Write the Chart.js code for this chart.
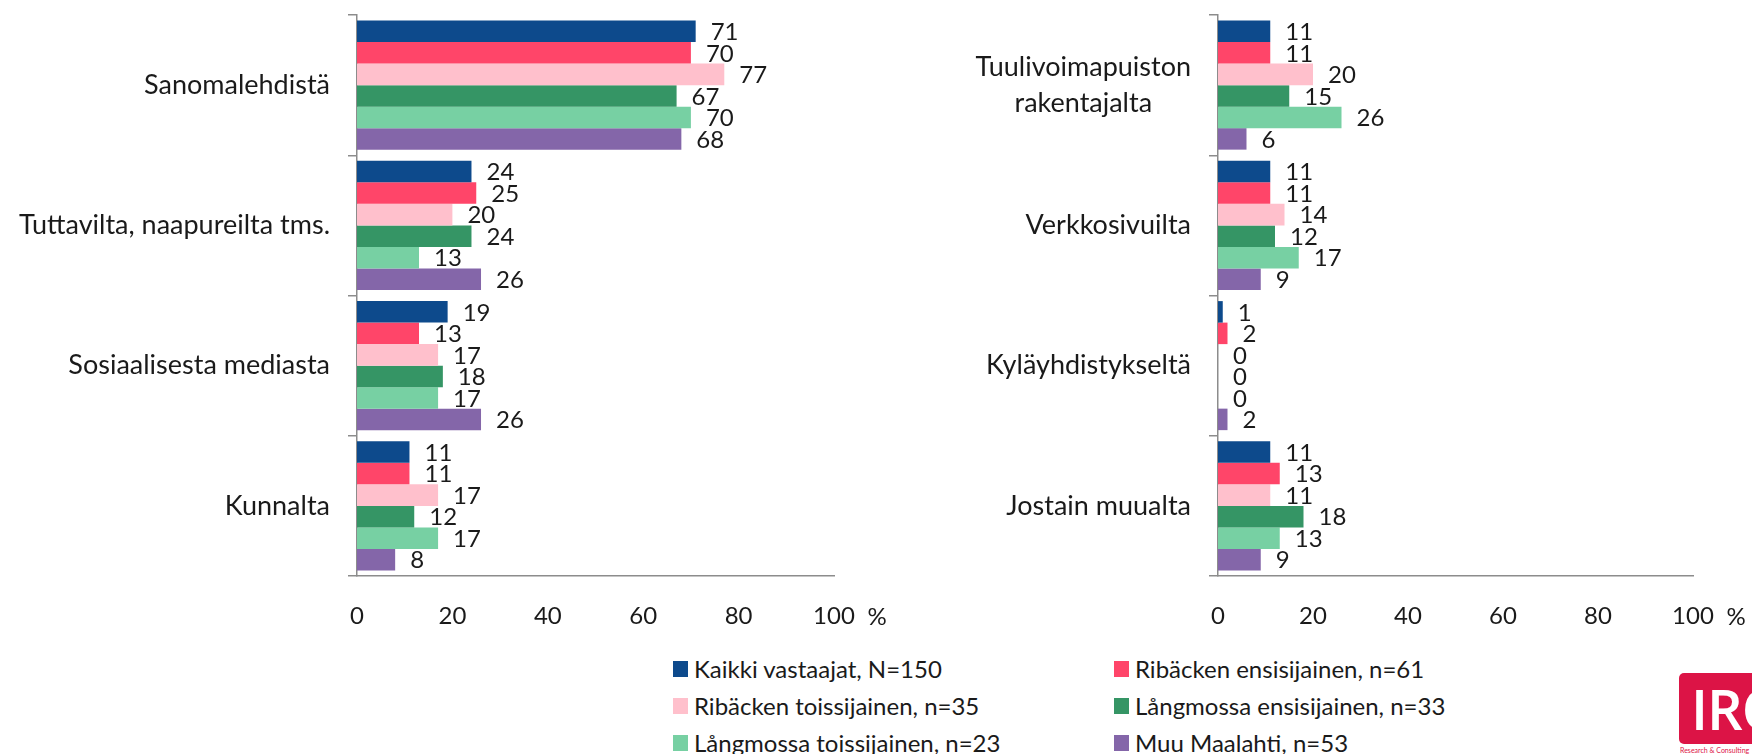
<!DOCTYPE html>
<html>
<head>
<meta charset="utf-8">
<script src="https://cdn.jsdelivr.net/npm/chart.js@4.4.1/dist/chart.umd.min.js"></script>
<style>
  html, body { margin: 0; padding: 0; background: #fff; }
  body { width: 1752px; height: 754px; position: relative; overflow: hidden; font-family: Lato, sans-serif; color: #1a1a1a; }
  .box { position: absolute; top: 0; height: 640px; }
  #leftBox { left: 0; width: 900px; }
  #rightBox { left: 900px; width: 852px; }
  #legend { position: absolute; left: 673px; top: 650px; display: grid; grid-template-columns: 441px 400px; row-gap: 0; }
  #legend .item { height: 37px; display: flex; align-items: center; font-size: 24px; white-space: nowrap; }
  #legend .sw { width: 15px; height: 16px; margin-right: 6px; }
  #logo { position: absolute; left: 1679px; top: 673px; width: 120px; height: 71px; background: #dc1446; border-radius: 5px; color: #fff; font: 600 56px "Open Sans", sans-serif; line-height: 71px; padding-left: 12px; letter-spacing: -1px; box-sizing: border-box; }
  #tag { position: absolute; left: 1680px; top: 746px; font-size: 7px; color: #dc1446; white-space: nowrap; }
</style>
</head>
<body>
<div class="box" id="leftBox"><canvas id="leftChart"></canvas></div>
<div class="box" id="rightBox"><canvas id="rightChart"></canvas></div>
<div id="legend"></div>
<div id="logo">IRO</div>
<div id="tag">Research &amp; Consulting</div>
<script>
const categoriesLeft = ["Sanomalehdistä", "Tuttavilta, naapureilta tms.", "Sosiaalisesta mediasta", "Kunnalta"];
const categoriesRight = [["Tuulivoimapuiston", "rakentajalta"], "Verkkosivuilta", "Kyläyhdistykseltä", "Jostain muualta"];

const seriesNames = [
  "Kaikki vastaajat, N=150",
  "Ribäcken ensisijainen, n=61",
  "Ribäcken toissijainen, n=35",
  "Långmossa ensisijainen, n=33",
  "Långmossa toissijainen, n=23",
  "Muu Maalahti, n=53",
];
const seriesColors = ["#0d4a8c", "#ff4569", "#ffc0cc", "#359565", "#77d0a3", "#8466a9"];

// values per series: left chart categories, right chart categories
const kaikkiLeft = [71, 24, 19, 11];
const kaikkiRight = [11, 11, 1, 11];
const ribEnsiLeft = [70, 25, 13, 11];
const ribEnsiRight = [11, 11, 2, 13];
const ribToisLeft = [77, 20, 17, 17];
const ribToisRight = [20, 14, 0, 11];
const langEnsiLeft = [67, 24, 18, 12];
const langEnsiRight = [15, 12, 0, 18];
const langToisLeft = [70, 13, 17, 17];
const langToisRight = [26, 17, 0, 13];
const muuLeft = [68, 26, 26, 8];
const muuRight = [6, 9, 2, 9];

const xTicks = [0, 20, 40, 60, 80, 100];

const leftValues = [kaikkiLeft, ribEnsiLeft, ribToisLeft, langEnsiLeft, langToisLeft, muuLeft];
const rightValues = [kaikkiRight, ribEnsiRight, ribToisRight, langEnsiRight, langToisRight, muuRight];

const FONT = "Lato, sans-serif";
const TEXT = "#1a1a1a";
const AXIS = "#8c8c8c";

// value labels at the bar ends
const valueLabels = {
  id: "valueLabels",
  afterDatasetsDraw(chart) {
    const ctx = chart.ctx;
    ctx.save();
    ctx.font = "24px " + FONT;
    ctx.fillStyle = TEXT;
    ctx.textAlign = "left";
    ctx.textBaseline = "middle";
    chart.data.datasets.forEach((ds, di) => {
      chart.getDatasetMeta(di).data.forEach((bar, i) => {
        ctx.fillText(String(ds.data[i]), bar.x + 15, bar.y + 1);
      });
    });
    ctx.restore();
  },
};

// category labels (multi-line ones centred on their widest line) and the "%" unit
const axisText = {
  id: "axisText",
  afterDraw(chart) {
    const ctx = chart.ctx;
    const y = chart.scales.y;
    const x = chart.scales.x;
    ctx.save();
    ctx.font = "27px " + FONT;
    ctx.fillStyle = TEXT;
    ctx.textBaseline = "middle";
    const right = chart.chartArea.left - 27;
    chart.data.labels.forEach((lab, i) => {
      const cy = y.getPixelForValue(i);
      const lines = Array.isArray(lab) ? lab : [lab];
      const w = Math.max(...lines.map(l => ctx.measureText(l).width));
      const lh = 36;
      lines.forEach((l, k) => {
        const ly = cy + (k - (lines.length - 1) / 2) * lh;
        if (lines.length > 1) {
          ctx.textAlign = "center";
          ctx.fillText(l, right - w / 2, ly);
        } else {
          ctx.textAlign = "right";
          ctx.fillText(l, right, ly);
        }
      });
    });
    ctx.font = "24px " + FONT;
    ctx.textAlign = "center";
    ctx.fillText("%", x.getPixelForValue(100) + 43, 617);
    ctx.restore();
  },
};

function makeChart(id, labels, values, leftWidth, rightPad) {
  const ctx = document.getElementById(id).getContext("2d");
  return new Chart(ctx, {
    type: "bar",
    data: {
      labels: labels,
      datasets: values.map((v, i) => ({
        label: seriesNames[i],
        data: v,
        backgroundColor: seriesColors[i],
        borderWidth: 0,
        categoryPercentage: 0.92,
        barPercentage: 1.0,
      })),
    },
    options: {
      indexAxis: "y",
      responsive: true,
      maintainAspectRatio: false,
      animation: false,
      layout: { padding: { top: 15, right: rightPad, left: 0, bottom: 0 } },
      plugins: { legend: { display: false }, tooltip: { enabled: false } },
      scales: {
        y: {
          ticks: { display: false },
          grid: { display: true, drawOnChartArea: false, drawTicks: true, tickLength: 9, color: AXIS, lineWidth: 1.5, offset: true },
          border: { display: true, color: AXIS, width: 1.5 },
          afterFit(s) { s.width = leftWidth; },
        },
        x: {
          min: 0,
          max: 100,
          afterBuildTicks(s) { s.ticks = xTicks.map(v => ({ value: v })); },
          ticks: { font: { family: FONT, size: 24 }, color: TEXT, padding: 26, maxRotation: 0 },
          grid: { display: false, drawTicks: false },
          border: { display: true, color: AXIS, width: 1.5 },
          afterFit(s) { s.height = 64; },
        },
      },
    },
    plugins: [valueLabels, axisText],
  });
}

makeChart("leftChart", categoriesLeft, leftValues, 357, 66);
makeChart("rightChart", categoriesRight, rightValues, 318, 59);

const legend = document.getElementById("legend");
seriesNames.forEach((name, i) => {
  const item = document.createElement("div");
  item.className = "item";
  item.innerHTML = '<span class="sw" style="background:' + seriesColors[i] + '"></span>' + name;
  legend.appendChild(item);
});
</script>
</body>
</html>
